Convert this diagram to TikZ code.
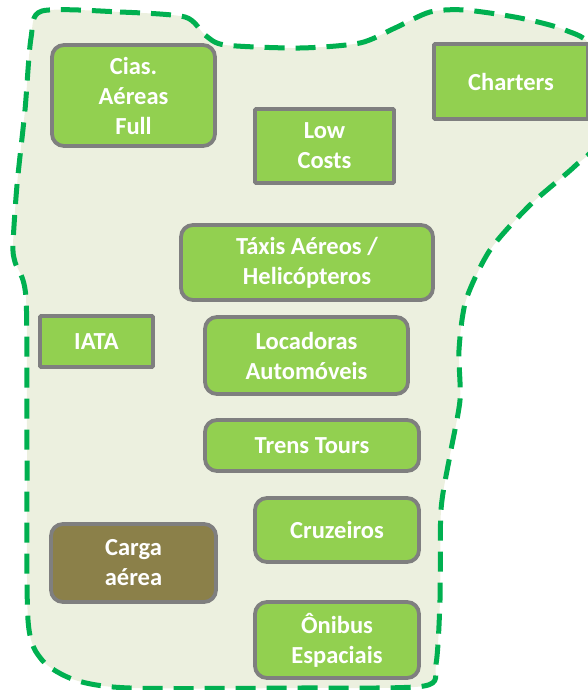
\documentclass[tikz,border=0pt]{standalone}
\usepackage{fontspec}
\setmainfont{Carlito}
\definecolor{areafill}{HTML}{ECF0DF}
\definecolor{areadash}{HTML}{00B050}
\definecolor{boxgreen}{HTML}{92D050}
\definecolor{boxbrown}{HTML}{8B8049}
\definecolor{boxline}{HTML}{7F7F7F}
\tikzset{
  box/.style={draw=boxline, line width=3.8pt, fill=boxgreen, text=white,
    align=center, inner sep=0pt,
    font=\fontsize{24.5}{30}\selectfont\bfseries},
  roundbox/.style={box, rounded corners=12pt},
  squarebox/.style={box, rounded corners=1pt},
}
\begin{document}
\begin{tikzpicture}[x=1pt,y=-1pt]
\useasboundingbox (0,0) rectangle (588,690);
% dashed outline of the area
\draw[fill=areafill, draw=areadash, line width=5pt, dash pattern=on 20pt off 11pt]
  plot[smooth cycle, tension=0.45] coordinates {
    (42,11) (120,12) (185,17) (205,35) (225,45) (300,48) (360,43) (395,28)
    (430,12) (465,10) (520,18) (565,30) (592,50) (596,140) (575,166)
    (530,205) (490,250) (466,300) (459,350) (460,400) (450,455) (441,510)
    (440,600) (436,664) (424,686) (300,688) (130,688) (75,680) (42,660)
    (28,620) (27,450) (26,298) (15,262) (13,245) (17,185) (25,110) (31,38)};
% boxes
\node[roundbox, minimum width=163pt, minimum height=101pt] (cias) at (133.5,95.5) {Cias.\\Aéreas\\Full};
\node[squarebox, minimum width=139pt, minimum height=74pt] (low) at (324.5,146) {Low\\Costs};
\node[squarebox, minimum width=154pt, minimum height=75pt] (charters) at (511,81.5) {Charters};
\node[roundbox, minimum width=252pt, minimum height=75pt] (taxi) at (307,262.5) {Táxis Aéreos /\\Helicópteros};
\node[squarebox, minimum width=113pt, minimum height=51pt] (iata) at (96.5,341.5) {IATA};
\node[roundbox, minimum width=203pt, minimum height=77pt] (loc) at (306.5,355.5) {Locadoras\\Automóveis};
\node[roundbox, minimum width=214pt, minimum height=51pt] (trens) at (312,445.5) {Trens Tours};
\node[roundbox, minimum width=164pt, minimum height=64pt] (cruz) at (337,530) {Cruzeiros};
\node[roundbox, fill=boxbrown, minimum width=165pt, minimum height=78pt] (carga) at (133.5,563) {Carga\\aérea};
\node[roundbox, minimum width=164pt, minimum height=76pt] (onibus) at (337,640) {Ônibus\\Espaciais};
\end{tikzpicture}
\end{document}
